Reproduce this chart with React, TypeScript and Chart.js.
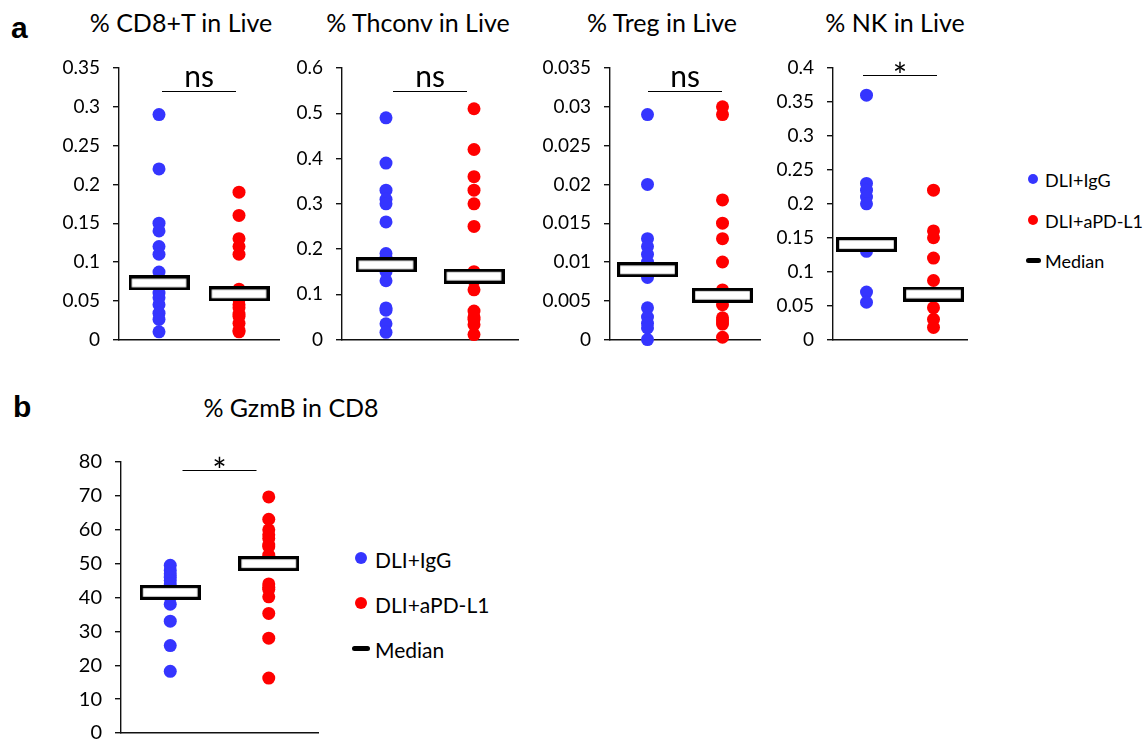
import React, { useEffect, useRef } from 'react';
import { Chart, registerables } from 'chart.js';

Chart.register(...registerables);

// ---------- data ----------
const groupNames = ['DLI+IgG', 'DLI+aPD-L1'];
const medianLabel = 'Median';

const cd8IgG = [0.29, 0.22, 0.15, 0.14, 0.12, 0.11, 0.087, 0.078, 0.07, 0.06, 0.054, 0.045, 0.034, 0.026, 0.01];
const cd8Pdl1 = [0.19, 0.16, 0.13, 0.12, 0.11, 0.065, 0.058, 0.052, 0.045, 0.041, 0.033, 0.03, 0.021, 0.012, 0.01];
const cd8Median = [0.073, 0.059];

const thconvIgG = [0.49, 0.39, 0.33, 0.31, 0.3, 0.26, 0.19, 0.18, 0.155, 0.15, 0.13, 0.07, 0.065, 0.035, 0.016];
const thconvPdl1 = [0.51, 0.42, 0.36, 0.33, 0.3, 0.25, 0.15, 0.14, 0.13, 0.11, 0.063, 0.05, 0.045, 0.033, 0.011];
const thconvMedian = [0.165, 0.14];

const tregIgG = [0.029, 0.02, 0.013, 0.012, 0.011, 0.01, 0.0095, 0.009, 0.008, 0.0041, 0.0029, 0.0021, 0.0015, 0];
const tregPdl1 = [0.03, 0.029, 0.018, 0.015, 0.013, 0.01, 0.0064, 0.0058, 0.0045, 0.0028, 0.0024, 0.002, 0.0003];
const tregMedian = [0.009, 0.0057];

const nkIgG = [0.36, 0.23, 0.22, 0.21, 0.2, 0.14, 0.13, 0.07, 0.055];
const nkPdl1 = [0.22, 0.16, 0.15, 0.12, 0.087, 0.066, 0.047, 0.03, 0.018];
const nkMedian = [0.14, 0.067];

const gzmbIgG = [49.5, 48, 47, 46, 45, 44, 43, 42, 41, 40, 38, 33, 25.8, 18.2];
const gzmbPdl1 = [69.7, 63.1, 60, 58.5, 57.4, 55.5, 55, 52.5, 51, 50, 44, 43, 42.4, 40.2, 35.3, 28, 16.2];
const gzmbMedian = [41.5, 50];

const titles = ['% CD8+T in Live', '% Thconv in Live', '% Treg in Live', '% NK in Live', '% GzmB in CD8'];
const yMaxes = [0.35, 0.6, 0.035, 0.4, 80];
const ySteps = [0.05, 0.1, 0.005, 0.05, 10];
const sigLabels = ['ns', 'ns', 'ns', '*', '*'];

// ---------- styling / layout ----------
const BLUE = '#3535FF';
const RED = '#FF0000';
const FONT = 'Lato, "Open Sans", sans-serif';

type PanelCfg = {
  title: string; igg: number[]; pd: number[]; med: number[]; yMax: number; step: number; sig: string;
  axisX: number; endX: number; top: number; bottom: number; titleX: number; titleBase: number; sigOffset: number;
  tickSize: number;
};

const panels: PanelCfg[] = [
  { title: titles[0], igg: cd8IgG, pd: cd8Pdl1, med: cd8Median, yMax: yMaxes[0], step: ySteps[0], sig: sigLabels[0], axisX: 119, endX: 279, top: 68, bottom: 340, titleX: 181, titleBase: 32, sigOffset: 23, tickSize: 19 },
  { title: titles[1], igg: thconvIgG, pd: thconvPdl1, med: thconvMedian, yMax: yMaxes[1], step: ySteps[1], sig: sigLabels[1], axisX: 342, endX: 518, top: 68, bottom: 340, titleX: 418, titleBase: 32, sigOffset: 23, tickSize: 19 },
  { title: titles[2], igg: tregIgG, pd: tregPdl1, med: tregMedian, yMax: yMaxes[2], step: ySteps[2], sig: sigLabels[2], axisX: 610, endX: 760, top: 68, bottom: 340, titleX: 662, titleBase: 32, sigOffset: 23, tickSize: 19 },
  { title: titles[3], igg: nkIgG, pd: nkPdl1, med: nkMedian, yMax: yMaxes[3], step: ySteps[3], sig: sigLabels[3], axisX: 833, endX: 967, top: 68, bottom: 340, titleX: 895, titleBase: 32, sigOffset: 7, tickSize: 19 },
  { title: titles[4], igg: gzmbIgG, pd: gzmbPdl1, med: gzmbMedian, yMax: yMaxes[4], step: ySteps[4], sig: sigLabels[4], axisX: 121, endX: 318, top: 462, bottom: 733, titleX: 291, titleBase: 417, sigOffset: 8, tickSize: 20 },
];

const Y_AXIS_W = 75;
const PAD_TOP = 30;
const PAD_BOTTOM = 20;
const PAD_RIGHT = 10;

function makeMedianBox(): HTMLCanvasElement {
  const c = document.createElement('canvas');
  c.width = 61;
  c.height = 15;
  const ctx = c.getContext('2d')!;
  ctx.fillStyle = '#fff';
  ctx.fillRect(0, 0, c.width, c.height);
  ctx.strokeStyle = '#000';
  ctx.lineWidth = 3.2;
  ctx.strokeRect(1.6, 1.6, c.width - 3.2, c.height - 3.2);
  return c;
}

const sigPlugin = {
  id: 'sig',
  afterDatasetsDraw(chart: any, _args: any, opts: any) {
    if (!opts || !opts.text) return;
    const { ctx, chartArea, scales } = chart;
    const xs = scales.x;
    const mid = (xs.getPixelForValue(0.5) + xs.getPixelForValue(1.5)) / 2;
    const y = chartArea.top + opts.offset;
    ctx.save();
    ctx.strokeStyle = '#000';
    ctx.lineWidth = 1;
    ctx.beginPath();
    ctx.moveTo(mid - 37, y + 0.5);
    ctx.lineTo(mid + 37, y + 0.5);
    ctx.stroke();
    ctx.fillStyle = '#000';
    ctx.textAlign = 'center';
    ctx.textBaseline = 'alphabetic';
    if (opts.text === '*') {
      ctx.font = `34px ${FONT}`;
      ctx.fillText('*', mid, y + 13);
    } else {
      ctx.font = `30px ${FONT}`;
      ctx.fillText(opts.text, mid, y - 4);
    }
    ctx.restore();
  },
};

function fmt(v: number) {
  return String(Math.round(v * 1e6) / 1e6);
}

function Panel({ cfg }: { cfg: PanelCfg }) {
  const ref = useRef<HTMLCanvasElement>(null);
  const extra = cfg.tickSize >= 20 ? 5 : 4;
  const left = cfg.axisX - Y_AXIS_W;
  const top = cfg.top - PAD_TOP;
  const width = cfg.endX - cfg.axisX + Y_AXIS_W + PAD_RIGHT;
  const height = cfg.bottom - cfg.top + PAD_TOP + PAD_BOTTOM + extra;

  useEffect(() => {
    if (!ref.current) return;
    const box = makeMedianBox();
    const chart = new Chart(ref.current, {
      type: 'scatter',
      data: {
        datasets: [
          {
            label: medianLabel,
            data: cfg.med.map((v, i) => ({ x: i + 0.5, y: v })),
            pointStyle: box as any,
            pointRadius: 6,
            order: 0,
            clip: false as any,
          },
          {
            label: groupNames[0],
            data: cfg.igg.map((v) => ({ x: 0.5, y: v })),
            backgroundColor: BLUE,
            pointBackgroundColor: BLUE,
            pointBorderWidth: 0,
            pointRadius: 6.5,
            order: 1,
            clip: false as any,
          },
          {
            label: groupNames[1],
            data: cfg.pd.map((v) => ({ x: 1.5, y: v })),
            backgroundColor: RED,
            pointBackgroundColor: RED,
            pointBorderWidth: 0,
            pointRadius: 6.5,
            order: 2,
            clip: false as any,
          },
        ],
      },
      options: {
        animation: false,
        responsive: false,
        maintainAspectRatio: false,
        events: [],
        layout: { padding: { top: PAD_TOP, bottom: PAD_BOTTOM, right: PAD_RIGHT, left: 0 } },
        plugins: {
          legend: { display: false },
          tooltip: { enabled: false },
          title: { display: false },
          sig: { text: cfg.sig, offset: cfg.sigOffset },
        } as any,
        scales: {
          x: {
            type: 'linear',
            min: 0,
            max: 2,
            ticks: { display: false, padding: 0 },
            grid: { display: false },
            border: { display: true, color: '#111', width: 1.4 },
            afterFit: (s: any) => { s.height = 0; s.paddingTop = 0; s.paddingBottom = 0; },
          },
          y: {
            type: 'linear',
            min: 0,
            max: cfg.yMax,
            ticks: {
              stepSize: cfg.step,
              color: '#000',
              padding: 13,
              font: { family: FONT, size: cfg.tickSize },
              callback: (v: any) => fmt(Number(v)),
            },
            grid: { display: true, drawOnChartArea: false, drawTicks: true, tickLength: 6, color: '#111', lineWidth: 1.4 },
            border: { display: true, color: '#111', width: 1.4 },
            afterFit: (s: any) => { s.width = Y_AXIS_W; },
          },
        },
      } as any,
      plugins: [sigPlugin],
    });
    return () => chart.destroy();
  }, [cfg]);

  return (
    <canvas
      ref={ref}
      width={width}
      height={height}
      style={{ position: 'absolute', left, top, width, height }}
    />
  );
}

function Title({ text, cx, base, size }: { text: string; cx: number; base: number; size: number }) {
  return (
    <div
      style={{
        position: 'absolute', left: cx - 150, width: 300, top: base - 0.887 * size,
        textAlign: 'center', fontFamily: FONT, fontSize: size, lineHeight: `${size}px`, color: '#000', whiteSpace: 'nowrap',
      }}
    >
      {text}
    </div>
  );
}

function LegendBlock({ mx, ys, textLeft, size, dotR, dashW }: { mx: number; ys: number[]; textLeft: number; size: number; dotR: number; dashW: number }) {
  const items = [
    { label: groupNames[0], kind: 'dot', color: BLUE },
    { label: groupNames[1], kind: 'dot', color: RED },
    { label: medianLabel, kind: 'dash', color: '#000' },
  ];
  const lh = Math.round(size * 1.2);
  return (
    <>
      {items.map((it, i) => (
        <div
          key={i}
          style={{
            position: 'absolute', left: mx - 10, top: ys[i] - lh / 2, height: lh, display: 'flex', alignItems: 'center',
            fontFamily: FONT, fontSize: size, lineHeight: `${lh}px`, color: '#000', whiteSpace: 'nowrap',
          }}
        >
          <div style={{ width: 20, height: lh, display: 'flex', alignItems: 'center', justifyContent: 'center' }}>
            {it.kind === 'dot' ? (
              <div style={{ width: dotR * 2, height: dotR * 2, borderRadius: '50%', background: it.color }} />
            ) : (
              <div style={{ width: dashW, height: 5, borderRadius: 2.5, background: '#000' }} />
            )}
          </div>
          <span style={{ marginLeft: textLeft - (mx + 10), position: 'relative', top: 1 }}>{it.label}</span>
        </div>
      ))}
    </>
  );
}

export default function App() {
  return (
    <div style={{ position: 'absolute', left: 0, top: 0, width: 1148, height: 741, background: '#fff', overflow: 'hidden' }}>
      <div style={{ position: 'absolute', left: 11, top: 38 - 0.8465 * 30, fontFamily: '"Liberation Sans", Arial, sans-serif', fontWeight: 700, fontSize: 30, lineHeight: '30px' }}>a</div>
      <div style={{ position: 'absolute', left: 13, top: 417 - 0.8465 * 30, fontFamily: '"Liberation Sans", Arial, sans-serif', fontWeight: 700, fontSize: 30, lineHeight: '30px' }}>b</div>
      {panels.map((p, i) => (
        <Title key={'t' + i} text={p.title} cx={p.titleX} base={p.titleBase} size={25} />
      ))}
      {panels.map((p, i) => (
        <Panel key={'p' + i} cfg={p} />
      ))}
      <LegendBlock mx={1033} ys={[179, 220, 260]} textLeft={1045} size={18} dotR={5} dashW={15} />
      <LegendBlock mx={361} ys={[558, 603, 648]} textLeft={375} size={21} dotR={6} dashW={18} />
    </div>
  );
}
